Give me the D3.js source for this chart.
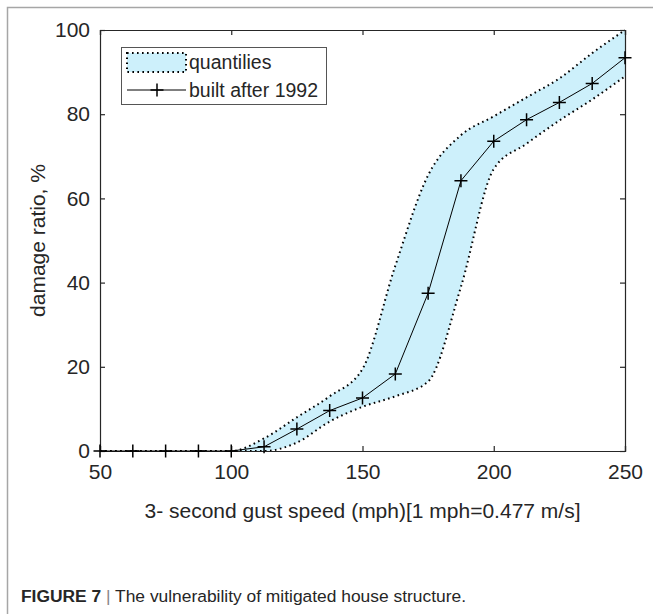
<!DOCTYPE html>
<html>
<head>
<meta charset="utf-8">
<script src="https://cdn.jsdelivr.net/npm/d3@7"></script>
<style>
  html, body { margin: 0; padding: 0; background: #fff; }
  svg { display: block; }
  text { font-family: "Liberation Sans", Arial, sans-serif; fill: #262626; }
</style>
</head>
<body>
<svg id="chart" width="653" height="614"></svg>
<script>
// ---- data ----
const speeds = [50, 62.5, 75, 87.5, 100, 112.5, 125, 137.5, 150, 162.5, 175, 187.5, 200, 212.5, 225, 237.5, 250];
const builtAfter1992 = [0, 0, 0, 0, 0, 1, 5.2, 9.6, 12.6, 18.3, 37.5, 64.2, 73.6, 78.7, 82.8, 87.3, 93.4];
const quantileUpper = [0, 0, 0, 0, 0, 3, 8, 13, 19.5, 44, 65.5, 75, 79.5, 84, 88.5, 94.5, 100];
const quantileLower = [0, 0, 0, 0, 0, 0, 2, 7, 10.5, 13, 16.5, 39, 67, 73, 78.5, 83.5, 89];
const xTicks = [50, 100, 150, 200, 250];
const yTicks = [0, 20, 40, 60, 80, 100];
const xTitle = "3- second gust speed (mph)[1 mph=0.477 m/s]";
const yTitle = "damage ratio, %";
const legendLabels = ["quantilies", "built after 1992"];

// ---- layout ----
const svg = d3.select("#chart");
const L = 100, R = 625, T = 30, B = 451;
const x = d3.scaleLinear().domain([50, 250]).range([L, R]);
const y = d3.scaleLinear().domain([0, 100]).range([B, T]);

// frame
svg.append("path").attr("d", "M7.5,614 L7.5,7.5 L653,7.5")
  .attr("fill", "none").attr("stroke", "#a6a6a6").attr("stroke-width", 1.5);

// band
const band = speeds.map((s, i) => ({ s, lo: quantileLower[i], hi: quantileUpper[i] }));
const area = d3.area().x(d => x(d.s)).y0(d => y(d.lo)).y1(d => y(d.hi)).curve(d3.curveMonotoneX);
svg.append("path").datum(band).attr("d", area).attr("fill", "#cdf0fb");
const lineHi = d3.line().x(d => x(d.s)).y(d => y(d.hi)).curve(d3.curveMonotoneX);
const lineLo = d3.line().x(d => x(d.s)).y(d => y(d.lo)).curve(d3.curveMonotoneX);
[lineHi, lineLo].forEach(g => {
  svg.append("path").datum(band).attr("d", g).attr("fill", "none")
    .attr("stroke", "#000").attr("stroke-width", 2).attr("stroke-dasharray", "1.6,3.4");
});

// axes (box, ticks inward on all sides)
const tickLen = 5;
const axisColor = "#262626";
const gB = svg.append("g").attr("transform", `translate(0,${B})`)
  .call(d3.axisBottom(x).tickValues(xTicks).tickSize(-tickLen).tickPadding(13).tickFormat(d3.format("d")));
const gT = svg.append("g").attr("transform", `translate(0,${T})`)
  .call(d3.axisTop(x).tickValues(xTicks).tickSize(-tickLen).tickFormat(""));
const gL = svg.append("g").attr("transform", `translate(${L},0)`)
  .call(d3.axisLeft(y).tickValues(yTicks).tickSize(-tickLen).tickPadding(10).tickFormat(d3.format("d")));
const gR = svg.append("g").attr("transform", `translate(${R},0)`)
  .call(d3.axisRight(y).tickValues(yTicks).tickSize(-tickLen).tickFormat(""));
[gB, gT, gL, gR].forEach(g => {
  g.select(".domain").attr("stroke", axisColor).attr("stroke-width", 1.2);
  g.selectAll(".tick line").attr("stroke", axisColor).attr("stroke-width", 1.2);
  g.selectAll("text").attr("fill", axisColor).style("font-size", "21px")
    .style("font-family", '"Liberation Sans", Arial, sans-serif');
});

// series line + markers
const line = d3.line().x((d, i) => x(speeds[i])).y(d => y(d));
svg.append("path").datum(builtAfter1992).attr("d", line)
  .attr("fill", "none").attr("stroke", "#000").attr("stroke-width", 1);
const ms = 6.5;
svg.append("g").selectAll("path").data(builtAfter1992).join("path")
  .attr("d", (d, i) => {
    const cx = x(speeds[i]), cy = y(d);
    return `M${cx - ms},${cy}H${cx + ms}M${cx},${cy - ms}V${cy + ms}`;
  })
  .attr("stroke", "#000").attr("stroke-width", 1.5);

// titles
svg.append("text").attr("x", (L + R) / 2).attr("y", 518).attr("text-anchor", "middle")
  .style("font-size", "21px").text(xTitle);
svg.append("text").attr("transform", `translate(45,${(T + B) / 2}) rotate(-90)`)
  .attr("text-anchor", "middle").style("font-size", "21px").text(yTitle);

// legend
const lg = svg.append("g");
lg.append("rect").attr("x", 121.5).attr("y", 47.5).attr("width", 205).attr("height", 57)
  .attr("fill", "#fff").attr("stroke", "#555").attr("stroke-width", 1);
lg.append("rect").attr("x", 127).attr("y", 53).attr("width", 59).attr("height", 19)
  .attr("fill", "#cdf0fb").attr("stroke", "#000").attr("stroke-width", 2).attr("stroke-dasharray", "1.6,3.4");
lg.append("line").attr("x1", 127).attr("x2", 186).attr("y1", 90).attr("y2", 90)
  .attr("stroke", "#000").attr("stroke-width", 1);
lg.append("path").attr("d", `M${157 - ms},90H${157 + ms}M157,${90 - ms}V${90 + ms}`)
  .attr("stroke", "#000").attr("stroke-width", 1.5);
lg.append("text").attr("x", 189).attr("y", 69).style("font-size", "19.5px").attr("fill", "#000").text(legendLabels[0]);
lg.append("text").attr("x", 189).attr("y", 97).style("font-size", "19.5px").attr("fill", "#000").text(legendLabels[1]);

// caption
const cap = svg.append("text").attr("x", 21).attr("y", 602)
  .style("font-family", '"Liberation Sans Narrow", "Arial Narrow", "Liberation Sans", sans-serif')
  .style("font-size", "17.4px").attr("fill", "#333");
cap.append("tspan").style("font-weight", "bold").text("FIGURE 7");
cap.append("tspan").attr("fill", "#888").text(" | ");
cap.append("tspan").text("The vulnerability of mitigated house structure.");
</script>
</body>
</html>
